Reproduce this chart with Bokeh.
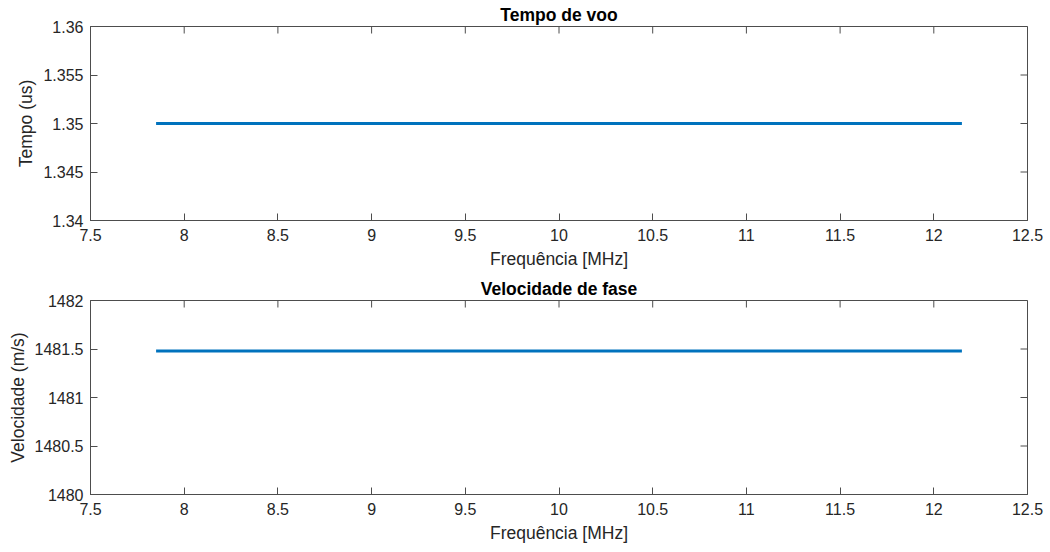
import math

from bokeh.plotting import figure
from bokeh.layouts import column
from bokeh.models import FixedTicker, Range1d, Title
from bokeh.embed import file_html
from bokeh.resources import INLINE

# Frequency sweep [MHz] and measured quantities
freq_mhz = [7.85, 8.5, 9.0, 9.5, 10.0, 10.5, 11.0, 11.5, 12.15]
tempo_us = [1.35, 1.35, 1.35, 1.35, 1.35, 1.35, 1.35, 1.35, 1.35]
velocidade = [1481.48, 1481.48, 1481.48, 1481.48, 1481.48, 1481.48, 1481.48, 1481.48, 1481.48]

x_ticks = [7.5, 8, 8.5, 9, 9.5, 10, 10.5, 11, 11.5, 12, 12.5]
x_tick_labels = ["7.5", "8", "8.5", "9", "9.5", "10", "10.5", "11", "11.5", "12", "12.5"]
tempo_ticks = [1.34, 1.345, 1.35, 1.355, 1.36]
vel_ticks = [1480, 1480.5, 1481, 1481.5, 1482]

FONT = "Liberation Sans"
TXT = "#262626"
BOX = "#4d4d4d"
LINE = "#0072BD"
X_MIN, X_MAX = 7.5, 12.5


def style_axis(ax):
    ax.axis_line_color = BOX
    ax.major_tick_line_color = BOX
    ax.minor_tick_line_color = None
    ax.major_tick_in = 7
    ax.major_tick_out = 0
    ax.major_label_text_font = FONT
    ax.major_label_text_font_size = "16px"
    ax.major_label_text_color = TXT
    ax.axis_label_text_font = FONT
    ax.axis_label_text_font_size = "17.5px"
    ax.axis_label_text_font_style = "normal"
    ax.axis_label_text_color = TXT


def make_panel(title, ylabel, y, yticks, yrange, height, top, bottom):
    p = figure(width=1050, height=height, output_backend="svg",
               toolbar_location=None, x_range=Range1d(X_MIN, X_MAX),
               y_range=Range1d(*yrange),
               min_border_left=90, min_border_right=23,
               min_border_top=top, min_border_bottom=bottom)
    p.title = Title(text=title, align="center", text_font=FONT,
                    text_font_size="17.5px", text_font_style="bold",
                    text_color="#000000", standoff=4, offset=0)
    p.grid.visible = False
    p.outline_line_color = BOX
    p.outline_line_width = 1
    p.background_fill_color = "white"
    p.border_fill_color = "white"

    p.xaxis.ticker = FixedTicker(ticks=x_ticks)
    p.yaxis.ticker = FixedTicker(ticks=yticks)
    p.xaxis.major_label_overrides = dict(zip(x_ticks, x_tick_labels))
    p.xaxis.axis_label = "Frequência [MHz]"
    p.yaxis.axis_label = ylabel
    for ax in p.xaxis + p.yaxis:
        style_axis(ax)
    p.xaxis.major_label_standoff = 8
    p.xaxis.axis_label_standoff = 5
    p.yaxis.major_label_standoff = 7
    p.yaxis.axis_label_standoff = 4

    # inward tick marks on the top and right edges of the box
    p.ray(x=x_ticks, y=[yrange[1]] * len(x_ticks), length=7,
          length_units="screen", angle=-math.pi / 2, line_color=BOX, line_width=1)
    p.ray(x=[X_MAX] * len(yticks), y=yticks, length=7,
          length_units="screen", angle=math.pi, line_color=BOX, line_width=1)

    p.line(freq_mhz, y, line_color=LINE, line_width=3)
    return p


p1 = make_panel("Tempo de voo", "Tempo (us)", tempo_us, tempo_ticks,
                (1.34, 1.36), 274, 26, 54)
p2 = make_panel("Velocidade de fase", "Velocidade (m/s)", velocidade, vel_ticks,
                (1480, 1482), 278, 26, 58)

p = column(p1, p2)
open("out.html", "w").write(file_html(p, INLINE))
